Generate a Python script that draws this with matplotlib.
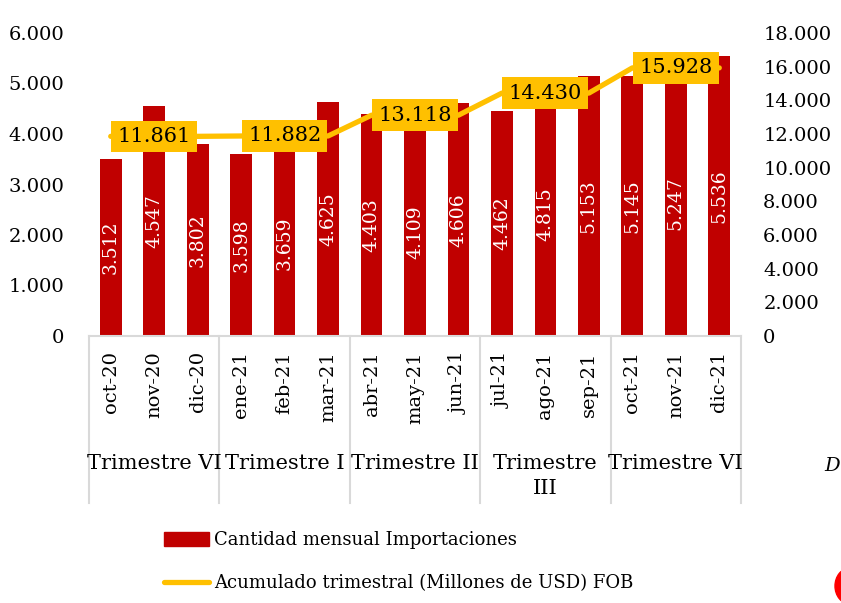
import numpy as np
import matplotlib
matplotlib.use("Agg")
import matplotlib.pyplot as plt
from matplotlib.lines import Line2D
from matplotlib.patches import Ellipse
import matplotlib.transforms as mtransforms

plt.rcParams['font.family'] = ['DejaVu Serif']

# data
months = ["oct-20", "nov-20", "dic-20", "ene-21", "feb-21", "mar-21",
          "abr-21", "may-21", "jun-21", "jul-21", "ago-21", "sep-21",
          "oct-21", "nov-21", "dic-21"]
mensual = [3512, 4547, 3802, 3598, 3659, 4625, 4403, 4109, 4606,
           4462, 4815, 5153, 5145, 5247, 5536]
acumulado = [11861, 11861, 11861, 11882, 11882, 11882, 13118, 13118, 13118,
             14430, 14430, 14430, 15928, 15928, 15928]
trimestres = ["Trimestre VI", "Trimestre I", "Trimestre II", "Trimestre\nIII", "Trimestre VI"]
left_ticks = [0, 1000, 2000, 3000, 4000, 5000, 6000]
right_ticks = [0, 2000, 4000, 6000, 8000, 10000, 12000, 14000, 16000, 18000]

RED = "#C00000"
GOLD = "#FFC000"
GRAY = "#D9D9D9"

def fmt(v):
    return f"{v:,.0f}".replace(",", ".")

W, H = 841, 603
fig = plt.figure(figsize=(W / 100, H / 100), dpi=100)
ax = fig.add_axes([89 / W, (H - 336) / H, 652 / W, 303 / H])
x = np.arange(len(months))

bars = ax.bar(x, mensual, width=0.5, color=RED, zorder=2)
for xi, v in zip(x, mensual):
    ax.text(xi, v / 2, fmt(v), rotation=90, ha="center", va="center",
            color="white", fontsize=13.5, zorder=3)

ax.set_xlim(-0.5, len(months) - 0.5)
ax.set_ylim(0, 6000)
ax.set_yticks(left_ticks)
ax.set_yticklabels([fmt(t) for t in left_ticks], fontsize=14)
ax.tick_params(axis="y", length=0, pad=18)
ax.set_xticks(x)
ax.set_xticklabels(months, rotation=90, fontsize=14, va="top")
ax.tick_params(axis="x", length=0, pad=11)
for s in ["top", "left", "right"]:
    ax.spines[s].set_visible(False)
ax.spines["bottom"].set_color(GRAY)
ax.spines["bottom"].set_linewidth(1.5)

# quarter groups
trans = mtransforms.blended_transform_factory(ax.transData, ax.transAxes)
for k in range(len(trimestres) + 1):
    xs = k * 3 - 0.5
    ax.add_line(Line2D([xs, xs], [0, -0.55], transform=trans, color=GRAY,
                       lw=1.5, clip_on=False))
for k, name in enumerate(trimestres):
    ax.text(k * 3 + 1, -0.389, name, transform=trans, ha="center", va="top",
            fontsize=15, linespacing=1.4)

# secondary axis line
ax2 = ax.twinx()
ax2.plot(x, acumulado, color=GOLD, lw=3.8, solid_capstyle="round", zorder=3)
ax2.set_ylim(0, 18000)
ax2.set_yticks(right_ticks)
ax2.set_yticklabels([fmt(t) for t in right_ticks], fontsize=14)
ax2.tick_params(axis="y", length=0, pad=16)
for s in ["top", "left", "right", "bottom"]:
    ax2.spines[s].set_visible(False)
for xi in range(1, len(months), 3):
    ax2.text(xi, acumulado[xi], fmt(acumulado[xi]), ha="center", va="center",
             fontsize=15, color="black", zorder=4,
             bbox=dict(boxstyle="square,pad=0.3", fc=GOLD, ec="none"))

# legend
handles = [plt.Rectangle((0, 0), 1, 1, color=RED),
           Line2D([0], [0], color=GOLD, lw=3.8, solid_capstyle="round")]
fig.legend(handles, ["Cantidad mensual Importaciones",
                     "Acumulado trimestral (Millones de USD) FOB"],
           loc="upper left", bbox_to_anchor=(157 / W, 1 - 524 / H),
           frameon=False, fontsize=13, handlelength=2.5, handleheight=0.85,
           handletextpad=0.25, labelspacing=1.4, borderaxespad=0)

# cut-off page elements at right edge
fig.text(824 / W, 1 - 466 / H, "D", fontsize=14, style="italic",
         ha="left", va="center")
fig.patches.append(Ellipse((850 / W, 1 - 586 / H), 30 / W, 36 / H,
                           transform=fig.transFigure, color="red"))

fig.savefig("out.png", dpi=100)
